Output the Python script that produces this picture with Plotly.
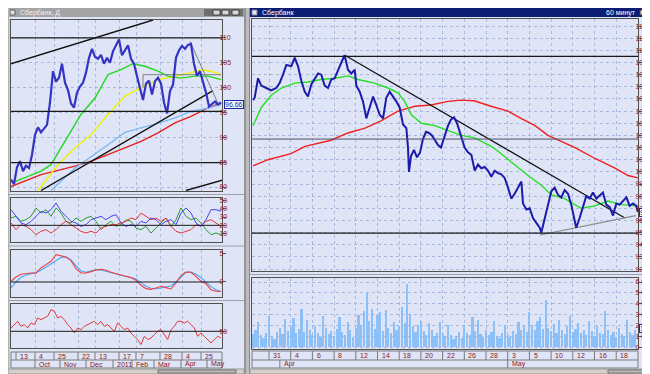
import plotly.graph_objects as go

W, H = 650, 374
BG = '#dfe4f6'
TXT = '#8a2020'
GRID = '#a9b9dc'
FRAME = '#505050'
FONT = 'Liberation Sans'

# ================= LEFT WINDOW (daily) =================
L_PRICE_STEP = 3
L_PRICE = [81.5, 80.6, 84.0, 85.2, 83.2, 84.3, 83.8, 86.5, 90.5, 92.0,
           91.0, 91.8, 92.5, 97.0, 103.3, 101.2, 102.0, 104.8, 101.0, 99.5,
           96.8, 96.0, 99.0, 100.2, 101.0, 103.0, 106.0, 107.8, 106.2, 105.8,
           106.6, 104.8, 106.0, 105.0, 107.3, 108.5, 109.7, 106.5, 107.5, 108.5,
           105.8, 104.8, 102.3, 99.8, 97.5, 100.8, 101.4, 98.6, 101.3, 102.0,
           100.8, 97.0, 94.8, 99.3, 100.6, 106.0, 107.5, 108.4, 107.8, 108.6,
           108.8, 104.8, 102.4, 103.3, 101.3, 99.0, 96.2, 96.8, 97.2, 96.6,
           97.0]
L_GREEN_X = [4, 30, 40, 54, 70, 84, 97, 110, 122, 134, 147, 157, 170, 184, 197, 210]
L_GREEN = [81.1, 83.2, 84.5, 89.2, 94.6, 97.9, 102.6, 103.6, 104.8, 104.3, 103.3, 102.3, 101.9, 102.3, 102.3, 101.6]
L_YELLOW_X = [27, 47, 64, 80, 97, 114, 130, 147, 164, 180, 190, 200, 210]
L_YELLOW = [79.3, 84.5, 87.9, 90.5, 94.6, 98.3, 100.0, 101.6, 102.3, 103.0, 103.6, 103.3, 102.6]
L_LBLUE_X = [40, 64, 97, 114, 130, 147, 164, 180, 197, 210]
L_LBLUE = [79.3, 83.8, 88.5, 91.0, 91.9, 92.8, 93.9, 95.2, 95.9, 96.6]
L_RED_X = [0, 30, 64, 80, 97, 114, 130, 147, 164, 180, 197, 210]
L_RED = [80.1, 82.5, 84.2, 85.2, 86.5, 87.9, 89.2, 90.9, 92.9, 94.2, 95.9, 96.9]
L_TREND_UP_X, L_TREND_UP = [-3, 142], [104.6, 113.6]
L_TREND_RISE_X, L_TREND_RISE = [30, 202], [79.3, 99.4]
L_TREND_LOW_X, L_TREND_LOW = [175, 212], [79.3, 81.4]
L_TREND_DOWN_X, L_TREND_DOWN = [179, 207], [109.3, 96.8]
L_BOX_X, L_BOX = [132, 132, 210], [100.0, 102.6, 102.6]
L_LEVELS = [110.0, 95.2, 84.9]
L_LAST = 96.66

L_OSC_STEP = 5
L_DMI_BLUE = [38.8, 30.8, 22.8, 20.8, 24.8, 30.8, 36.8, 34.8, 38.8, 46.8, 36.8, 30.8, 24.8, 22.8, 18.8,
              20.8, 26.8, 28.8, 30.8, 26.8, 30.8, 32.8, 22.8, 18.8, 20.8, 18.8, 24.8, 22.8, 28.8, 26.8,
              20.8, 24.8, 26.8, 20.8, 34.8, 40.8, 34.8, 22.8, 18.8, 26.8, 38.8, 38.8, 36.8]
L_DMI_GREEN = [28.8, 30.8, 24.8, 26.8, 30.8, 40.8, 34.8, 38.8, 30.8, 40.8, 34.8, 24.8, 22.8, 28.8, 24.8,
               28.8, 30.8, 24.8, 14.8, 20.8, 24.8, 18.8, 20.8, 26.8, 24.8, 16.8, 14.8, 18.8, 10.8, 16.8,
               22.8, 28.8, 18.8, 26.8, 40.8, 30.8, 26.8, 28.8, 22.8, 14.8, 8.8, 10.8, 8.8]
L_DMI_RED = [22.8, 14.8, 20.8, 18.8, 14.8, 8.8, 12.8, 14.8, 10.8, 14.8, 20.8, 24.8, 20.8, 16.8, 12.8,
             10.8, 12.8, 10.8, 16.8, 18.8, 20.8, 20.8, 22.8, 24.8, 28.8, 26.8, 34.8, 30.8, 26.8, 28.8,
             24.8, 28.8, 18.8, 12.8, 10.8, 12.8, 14.8, 20.8, 18.8, 24.8, 26.8, 22.8, 18.8]
L_DMI_LEVEL = 20
L_MACD = [0.12, 0.89, 1.37, 1.55, 1.61, 1.61, 2.50, 3.10, 3.69, 4.88, 4.70, 4.46, 3.81, 2.38, 1.61,
          1.61, 1.85, 2.14, 2.26, 2.08, 1.73, 1.43, 1.25, 1.01, 0.78, 0.30, -0.59, -1.19, -1.31, -1.07,
          -0.77, -1.01, -1.25, -0.18, 1.19, 1.79, 1.73, 1.01, 0.12, -0.30, -1.37, -1.66, -1.66]
L_MACD_SIGNAL = [-1.07, 0.0, 0.84, 1.25, 1.49, 1.67, 2.08, 2.68, 3.22, 3.81, 4.35, 4.46, 3.93, 2.92, 1.97,
                 1.73, 1.97, 2.20, 2.14, 1.91, 1.67, 1.43, 1.25, 1.01, 0.84, 0.54, -0.12, -0.77, -1.13, -1.19,
                 -1.07, -0.95, -0.71, 0.0, 0.95, 1.73, 1.79, 1.37, 0.78, -0.06, -0.83, -1.37, -1.72]
L_RSI_STEP = 10 / 3
L_RSI = [53.3, 56.7, 60.0, 55.0, 56.7, 53.3, 58.3, 56.7, 63.3, 61.7, 63.3, 65.0, 71.7, 70.0, 63.3, 65.0,
         61.7, 56.7, 53.3, 48.3, 53.3, 51.7, 55.0, 56.7, 58.3, 60.0, 56.7, 60.0, 55.0, 56.7, 53.3, 50.0,
         58.3, 55.0, 51.7, 53.3, 48.3, 45.0, 41.7, 36.7, 45.0, 41.7, 43.3, 46.7, 50.0, 51.7, 46.7, 41.7,
         51.7, 55.0, 60.0, 60.0, 58.3, 60.0, 56.7, 53.3, 45.0, 48.3, 45.0, 41.7, 38.3, 41.7, 45.0, 43.3]
L_DATE_SEP1 = [5, 24, 43, 67, 84, 108, 125, 149, 171, 190]
L_DATE_LAB1 = ['13', '4', '25', '22', '13', '17', '7', '28', '4', '25']
L_DATE_SEP2 = [24, 49, 75, 102, 121, 143, 170, 196]
L_DATE_LAB2 = ['Oct', 'Nov', 'Dec', '2011', 'Feb', 'Mar', 'Apr', 'May']

# ================= RIGHT WINDOW (60 min) =================
R_T = [-1.47, -1.32, -1.01, -0.71, -0.25, 0.21, 0.67, 0.98, 1.29, 1.60,
       2.06, 2.37, 2.67, 2.98, 3.29, 3.59, 3.90, 4.21, 4.52, 4.82,
       5.13, 5.44, 5.74, 6.05, 6.36, 6.67, 6.97, 7.28, 7.59, 7.90,
       8.05, 8.36, 8.66, 8.97, 9.28, 9.59, 9.89, 10.20, 10.51, 10.81,
       11.12, 11.43, 11.73, 12.04, 12.35, 12.66, 12.81, 12.90, 13.09, 13.36,
       13.64, 13.92, 14.19, 14.47, 14.75, 15.02, 15.30, 15.58, 15.85, 16.13,
       16.50, 16.77, 17.05, 17.33, 17.60, 17.88, 18.03, 18.34, 18.65, 18.96,
       19.26, 19.57, 19.88, 20.18, 20.49, 20.80, 21.11, 21.41, 21.72, 22.03,
       22.33, 22.64, 22.95, 23.26, 23.41, 23.72, 24.03, 24.33, 24.64, 24.95,
       25.10, 25.41, 25.71, 26.02, 26.33, 26.64, 26.94, 27.25, 27.56, 27.86,
       28.17, 28.32, 28.63, 28.94, 29.24, 29.56, 29.86, 30.17, 30.48, 30.78,
       31.09, 31.40, 31.71, 32.01, 32.32, 32.63, 32.94, 33.24, 33.55, 33.85,
       34.0]
R_PRICE = [105.9, 106.1, 107.7, 107.1, 106.9, 106.7, 106.9, 107.3, 108.0, 108.8,
           108.7, 109.4, 108.7, 107.5, 106.6, 106.2, 107.2, 107.6, 108.1, 108.0,
           107.1, 106.9, 107.6, 107.7, 108.4, 109.0, 109.6, 108.4, 108.1, 108.4,
           107.1, 106.6, 105.8, 104.4, 105.3, 106.2, 105.5, 104.7, 104.4, 106.1,
           106.6, 106.2, 105.8, 105.3, 103.9, 103.6, 102.0, 100.0, 101.3, 101.8,
           101.2, 101.6, 102.7, 103.3, 103.2, 103.0, 102.6, 102.2, 102.0, 102.8,
           103.8, 104.3, 104.5, 104.0, 103.3, 102.4, 102.0, 101.6, 101.4, 100.1,
           100.6, 100.3, 100.4, 100.1, 99.6, 100.1, 99.9, 99.8, 99.5, 98.7,
           97.8, 98.2, 98.7, 99.2, 97.4, 96.9, 97.0, 96.2, 95.8, 95.4,
           95.0, 96.2, 97.3, 98.4, 98.7, 98.1, 97.9, 98.5, 98.2, 97.3,
           96.0, 95.4, 96.2, 97.2, 98.0, 97.8, 98.3, 97.8, 98.1, 98.3,
           97.3, 97.1, 96.4, 97.4, 97.3, 97.6, 97.9, 97.2, 97.4, 97.2,
           96.7]
R_GREEN_T = [-1.47, -0.71, 0.21, 1.14, 2.37, 3.59, 4.82, 6.05, 7.28, 8.2, 9.74, 10.97, 11.89, 12.5, 13.12, 14.04,
             15.27, 16.5, 17.72, 18.96, 20.49, 21.11, 22.64, 23.87, 25.10, 26.02, 27.25, 28.78, 30.02, 31.24, 32.47, 34.0]
R_GREEN = [103.8, 105.3, 106.3, 106.9, 107.3, 107.4, 107.6, 107.7, 107.9, 107.6, 107.3, 106.9, 106.5, 105.8, 104.7, 104.0,
           103.8, 103.4, 103.0, 102.8, 102.1, 101.7, 100.6, 99.7, 98.9, 98.1, 97.8, 97.0, 97.2, 97.6, 97.3, 97.2]
R_RED_T = [-1.47, -0.09, 2.03, 3.32, 5.71, 7.28, 8.85, 10.32, 11.89, 13.46, 14.93, 16.5, 17.7, 18.9, 20.46,
           22.03, 23.23, 24.52, 25.71, 26.91, 28.2, 30.05, 31.89, 33.09, 34.0]
R_RED = [100.5, 101.0, 101.5, 102.1, 102.6, 103.2, 103.6, 104.2, 105.0, 105.4, 105.5, 105.8, 105.9, 105.85, 105.4,
         105.0, 104.4, 103.8, 103.0, 102.5, 102.0, 101.1, 100.3, 99.7, 99.5]
R_TREND_DOWN_T, R_TREND_DOWN = [7.0, 32.8], [109.6, 96.2]
R_TREND_UP_T, R_TREND_UP = [24.98, 33.8], [94.8, 96.4]
R_LEVELS_BLACK = [109.5, 94.95]
R_LEVEL_GRAY = 102.7
R_LAST = 96.66

R_VOL_START, R_VOL_STEP = -1.5, 0.25
R_VOL_MLN = [1.2, 1.6, 2.3, 1.1, 0.8, 1.3, 2.9, 1.0, 0.7, 1.4,
             1.8, 1.2, 2.6, 1.5, 1.9, 2.7, 1.3, 1.7, 3.5, 1.4,
             2.5, 1.6, 1.1, 1.9, 1.3, 0.9, 2.9, 1.8, 1.2, 1.5,
             1.0, 1.7, 2.8, 1.4, 1.1, 2.3, 1.6, 0.9, 1.8, 3.0,
             1.9, 3.3, 5.0, 2.4, 3.5, 1.7, 3.0, 3.2, 1.5, 3.4,
             1.8, 1.3, 2.3, 1.6, 1.9, 3.7, 2.2, 5.8, 3.0, 1.9,
             1.4, 2.0, 2.4, 1.5, 1.1, 2.2, 1.6, 1.0, 1.3, 2.3,
             1.2, 0.9, 2.0, 1.1, 0.7, 1.0, 1.4, 0.8, 2.0, 1.3,
             1.1, 2.8, 1.5, 2.5, 1.2, 0.9, 1.6, 1.1, 1.4, 2.4,
             1.0, 0.8, 1.3, 2.0, 1.1, 0.9, 1.5, 1.2, 2.3, 1.6,
             1.9, 1.4, 3.2, 2.0, 1.6, 2.4, 2.8, 1.7, 4.3, 1.8,
             1.5, 2.1, 1.3, 2.5, 1.6, 1.2, 1.9, 2.9, 1.4, 1.7,
             2.2, 1.3, 1.6, 1.1, 2.4, 1.5, 1.0, 1.9, 1.3, 1.2,
             3.3, 1.6, 1.1, 1.4, 0.9, 1.8, 1.2, 1.0, 2.5, 1.4,
             1.1, 1.6]
R_VOL_LAST = 1.74
R_DATE_SEP1 = [0, 2, 4, 6, 8, 10, 12, 14, 16, 18, 20, 22, 24, 26, 28, 30, 32]
R_DATE_LAB1 = ['31', '4', '6', '8', '12', '14', '18', '20', '22', '26', '28', '3', '5', '10', '12', '16', '18']
R_DATE_SEP2 = [1, 22]
R_DATE_LAB2 = ['Apr', 'May']


# ---------------- helpers ----------------
def dom_x(a, b):
    return [a / W, b / W]


def dom_y(top, bottom):
    return [1 - bottom / H, 1 - top / H]


def py(p):
    return 1 - p / H


def xaxis(x0, x1, rng, grid, anchor):
    return dict(domain=dom_x(x0, x1), range=rng, anchor=anchor, showticklabels=False, ticks='',
                tickvals=grid, showgrid=True, gridcolor=GRID, griddash='dot', gridwidth=1,
                zeroline=False, showline=True, mirror=True, linecolor=FRAME, linewidth=1,
                fixedrange=True)


def yaxis(top, bottom, rng, tickvals, anchor, ticktext=None, grid=False):
    d = dict(domain=dom_y(top, bottom), range=rng, anchor=anchor, side='right', tickvals=tickvals,
             ticks='outside', ticklen=3, tickcolor=FRAME, tickwidth=1, ticklabelstandoff=-8,
             tickfont=dict(size=7, color=TXT, family=FONT), showgrid=grid, gridcolor=GRID,
             griddash='dot', zeroline=False, showline=True, mirror=True, linecolor=FRAME,
             linewidth=1, automargin=False, fixedrange=True)
    if ticktext is not None:
        d['ticktext'] = ticktext
    return d


fig = go.Figure()


def line(xs, ys, color, width, xa, ya, dash=None):
    fig.add_trace(go.Scatter(x=xs, y=ys, mode='lines', xaxis=xa, yaxis=ya, hoverinfo='skip',
                             line=dict(color=color, width=width, dash=dash)))


LX = [0, 211]
# left price panel
line(L_RED_X, L_RED, '#e62020', 1.4, 'x', 'y')
line(L_LBLUE_X, L_LBLUE, '#7cbcf4', 1.4, 'x', 'y')
line(L_YELLOW_X, L_YELLOW, '#f2f200', 1.4, 'x', 'y')
line(L_GREEN_X, L_GREEN, '#22d822', 1.4, 'x', 'y')
line(L_TREND_UP_X, L_TREND_UP, '#111111', 1.4, 'x', 'y')
line(L_TREND_RISE_X, L_TREND_RISE, '#111111', 1.4, 'x', 'y')
line(L_TREND_LOW_X, L_TREND_LOW, '#111111', 1.4, 'x', 'y')
line(L_TREND_DOWN_X, L_TREND_DOWN, '#808080', 1, 'x', 'y')
line(L_BOX_X, L_BOX, '#808080', 1, 'x', 'y')
line([i * L_PRICE_STEP for i in range(len(L_PRICE))], L_PRICE, '#3434c4', 2.2, 'x', 'y')

# left oscillators
ox = [i * L_OSC_STEP for i in range(len(L_DMI_BLUE))]
line(ox, L_DMI_GREEN, '#2f9a2f', 1, 'x2', 'y2')
line(ox, L_DMI_RED, '#e03a3a', 1, 'x2', 'y2')
line(ox, L_DMI_BLUE, '#4646f0', 1, 'x2', 'y2')
line(ox, L_MACD_SIGNAL, '#45a8ff', 1.1, 'x3', 'y3')
line(ox, L_MACD, '#ef4040', 1.1, 'x3', 'y3')
line([i * L_RSI_STEP for i in range(len(L_RSI))], L_RSI, '#e23a3a', 1, 'x4', 'y4')

# right price panel
RX = [-1.567, 34.01]
line(R_RED_T, R_RED, '#f02020', 1.4, 'x5', 'y5')
line(R_GREEN_T, R_GREEN, '#22e022', 1.4, 'x5', 'y5')
line(R_TREND_DOWN_T, R_TREND_DOWN, '#111111', 1.2, 'x5', 'y5')
line(R_TREND_UP_T, R_TREND_UP, '#8a8a8a', 1.1, 'x5', 'y5')
line(R_T, R_PRICE, '#1c1caa', 2.0, 'x5', 'y5')

# volume
fig.add_trace(go.Bar(x=[R_VOL_START + i * R_VOL_STEP for i in range(len(R_VOL_MLN))], y=R_VOL_MLN,
                     width=0.2, marker=dict(color='#8cc0f6', line=dict(width=0)),
                     xaxis='x6', yaxis='y6', hoverinfo='skip'))

layout = dict(
    width=W, height=H, margin=dict(l=0, r=0, t=0, b=0), paper_bgcolor=BG, plot_bgcolor=BG,
    showlegend=False, template='none', font=dict(family=FONT, size=7, color=TXT), bargap=0,
    xaxis=xaxis(3, 214, LX, L_DATE_SEP1[1:], 'y'),
    yaxis=yaxis(12, 183, [79.2, 113.6], [80, 85, 90, 95, 100, 105, 110], 'x', grid=True),
    xaxis2=xaxis(3, 214, LX, L_DATE_SEP1[1:], 'y2'),
    yaxis2=yaxis(190, 234, [0.0, 52.8], [10, 20, 30, 40, 50], 'x2'),
    xaxis3=xaxis(3, 214, LX, L_DATE_SEP1[1:], 'y3'),
    yaxis3=yaxis(242, 289, [-2.68, 5.71], [0, 5], 'x3'),
    xaxis4=xaxis(3, 214, LX, L_DATE_SEP1[1:], 'y4'),
    yaxis4=yaxis(296, 340, [33.3, 77.3], [50], 'x4'),
    xaxis5=xaxis(244, 630, RX, R_DATE_SEP1, 'y5'),
    yaxis5=yaxis(11, 263, [91.84, 112.58], list(range(92, 113)), 'x5', grid=True),
    xaxis6=xaxis(244, 630, RX, R_DATE_SEP1, 'y6'),
    yaxis6=yaxis(270, 341, [-0.18, 6.37], [0, 1, 2, 3, 4, 5, 6], 'x6',
                 ticktext=['0', '1 000 000', '2 000 000', '3 000 000', '4 000 000', '5 000 000', '6 000 000'],
                 grid=True),
)
fig.update_layout(**layout)

shapes = []
annotations = []


def rect(x0, y0, x1, y1, fill, line_color=None, layer='above', xref='paper', yref='paper', lw=1):
    shapes.append(dict(type='rect', xref=xref, yref=yref, x0=x0, y0=y0, x1=x1, y1=y1,
                       fillcolor=fill, layer=layer,
                       line=dict(color=line_color or fill, width=lw if line_color else 0)))


def pline(x0, y0, x1, y1, color, width=1, xref='paper', yref='paper', layer='above'):
    shapes.append(dict(type='line', xref=xref, yref=yref, x0=x0, y0=y0, x1=x1, y1=y1,
                       layer=layer, line=dict(color=color, width=width)))


def text(x, y, s, color=TXT, size=7, xanchor='left', xref='paper', yref='paper', **kw):
    annotations.append(dict(x=x, y=y, text=s, xref=xref, yref=yref, showarrow=False,
                            xanchor=xanchor, yanchor='middle',
                            font=dict(size=size, color=color, family=FONT), **kw))


# horizontal levels
for lv in L_LEVELS:
    pline(0, lv, 1, lv, '#1a1a1a', 1.3, xref='x domain', yref='y')
pline(0, L_DMI_LEVEL, 1, L_DMI_LEVEL, '#1a1a1a', 1, xref='x2 domain', yref='y2')
pline(0, 0, 1, 0, '#1a1a1a', 1, xref='x3 domain', yref='y3')
pline(0, 50, 1, 50, '#1a1a1a', 1, xref='x4 domain', yref='y4')
for lv in R_LEVELS_BLACK:
    pline(0, lv, 1, lv, '#1a1a1a', 1.3, xref='x5 domain', yref='y5')
pline(0, R_LEVEL_GRAY, 1, R_LEVEL_GRAY, '#505068', 1, xref='x5 domain', yref='y5')

# window chrome
rect(0, py(0), 236 / W, py(9), '#a4a4a4')
rect(196 / W, py(1), 235 / W, py(8), '#6e6e6e')
for bx in (205, 214, 224):
    rect(bx / W, py(2), (bx + 7) / W, py(7), '#d8d8d8', '#404040')
rect(2 / W, py(2), 7 / W, py(7), '#e0e0e0', '#606060')
text(10 / W, py(4.5), 'Сбербанк, Д', color='#f2f2f2', size=7)

rect(241 / W, py(0), 1, py(9), '#0c1e74')
rect(244 / W, py(2), 249 / W, py(7), '#e8e8e8', '#8080a0')
text(252 / W, py(4.5), 'Сбербанк', color='#ffffff', size=7)
text(630 / W, py(4.5), '60 минут', color='#ffffff', size=7, xanchor='right')
rect(632 / W, py(2), 640 / W, py(7), '#d8d8d8', '#404040')
rect(641 / W, py(2), 649 / W, py(7), '#d8d8d8', '#404040')

rect(0, 0, 1.5 / W, 1, '#b4b4b4')
rect(236 / W, 0, 242 / W, 1, '#bdbdbd')
pline(237 / W, 0, 237 / W, 1, '#6a6a6a', 1)
pline(241.5 / W, 0, 241.5 / W, 1, '#8a8a8a', 1)

for yy in (186.5, 238, 292.5):
    pline(0, py(yy), 236 / W, py(yy), '#a0a0a8', 1)
pline(242 / W, py(266.5), 1, py(266.5), '#a0a0a8', 1)


# date strips
def date_strip(xa, x0px, x1px, seps1, labs1, seps2, labs2, r1, r2, r3, dx):
    rect(x0px / W, py(r3), x1px / W, py(r1), BG, '#7a7a7a', lw=1)
    pline(x0px / W, py(r2), x1px / W, py(r2), '#7a7a7a', 1)
    for s, lab in zip(seps1, labs1):
        pline(s, py(r1), s, py(r2), '#7a7a7a', 1, xref=xa)
        text(s + dx, py((r1 + r2) / 2), lab, xref=xa)
    for s, lab in zip(seps2, labs2):
        pline(s, py(r2), s, py(r3), '#7a7a7a', 1, xref=xa)
        text(s + dx, py((r2 + r3) / 2), lab, xref=xa)


date_strip('x4', 3, 214, L_DATE_SEP1, L_DATE_LAB1, L_DATE_SEP2, L_DATE_LAB2, 344, 352, 360, 1.5)
date_strip('x6', 244, 630, R_DATE_SEP1, R_DATE_LAB1, R_DATE_SEP2, R_DATE_LAB2, 343, 352, 360, 0.2)

# scrollbars and bottom
rect(0, py(366), 236 / W, py(361), '#d4d0c8', '#9a9a9a')
rect(150 / W, py(365), 228 / W, py(362), '#bcbcbc', '#707070')
rect(242 / W, py(366), 1, py(361), '#d4d0c8', '#9a9a9a')
rect(600 / W, py(365), 640 / W, py(362), '#bcbcbc', '#707070')
rect(0, 0, 1, py(366), '#868686')

# last price boxes
text(216 / W, L_LAST, '96.66', color='#1c2aa0', size=7, yref='y', bgcolor='#f4f6ff',
     bordercolor='#1c2aa0', borderwidth=1, borderpad=0)
text(631 / W, R_LAST, '96.66', color='#1c2aa0', size=7, yref='y5', bgcolor='#f4f6ff',
     bordercolor='#1c2aa0', borderwidth=1, borderpad=0)
text(631 / W, R_VOL_LAST, '1 744 0', color='#1c2aa0', size=7, yref='y6', bgcolor='#f4f6ff',
     bordercolor='#1c2aa0', borderwidth=1, borderpad=0)

fig.update_layout(shapes=shapes, annotations=annotations)
fig.write_html('out.html', config={'displayModeBar': False})
